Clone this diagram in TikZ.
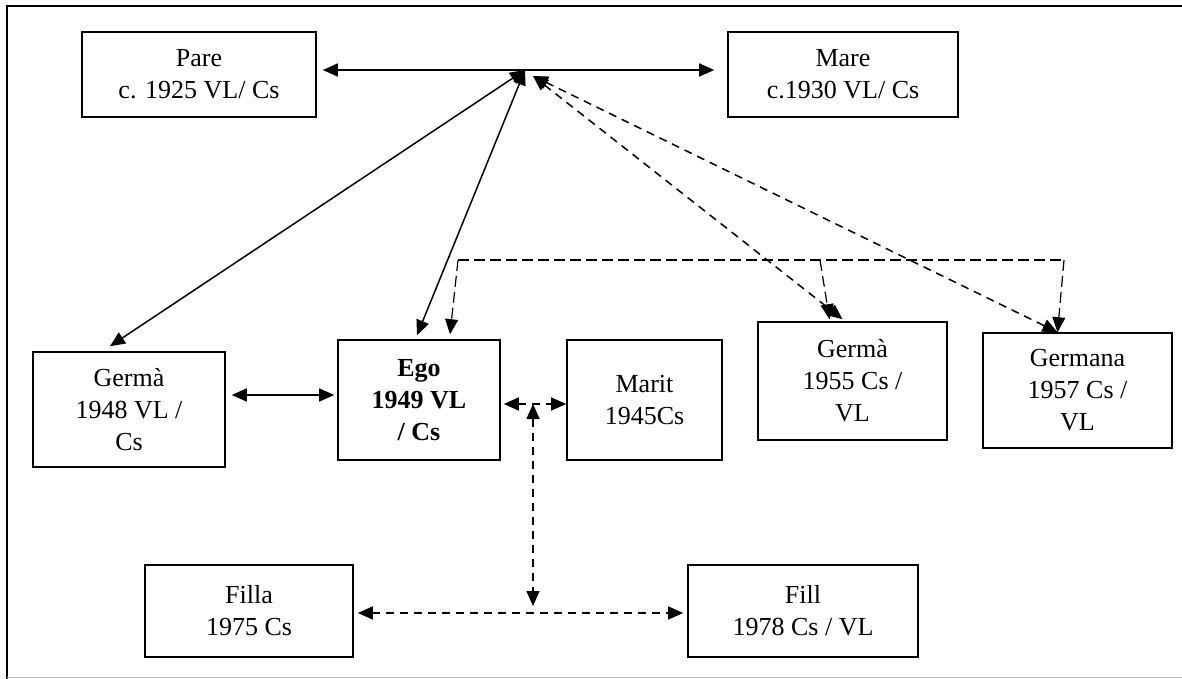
\documentclass[tikz,border=0pt]{standalone}
\usepackage{fontspec}
\setmainfont{Liberation Serif}
\usetikzlibrary{arrows.meta}
\begin{document}
\begin{tikzpicture}[x=1pt,y=-1pt,
  box/.style={draw,line width=1.6pt,minimum width=#1,align=center,inner sep=0pt,
    font=\fontsize{26}{32}\selectfont},
  conn/.style={line width=1.5pt,{Triangle[length=15pt,width=13pt]}-{Triangle[length=15pt,width=13pt]}},
  dsh/.style={dash pattern=on 8pt off 6pt},
  ldsh/.style={line width=1.2pt,dash pattern=on 11pt off 5pt}]
\useasboundingbox (0,0) rectangle (1182,679);
\draw[line width=1.6pt] (7,679) -- (7,6) -- (1182,6);
\draw[line width=0.8pt,gray!50] (7,677) -- (1182,677);

\node[box=234pt,minimum height=85pt] (pare) at (199,74.5) {Pare\\c. 1925 VL/ Cs};
\node[box=230pt,minimum height=85pt] (mare) at (843,74.5) {Mare\\c.1930 VL/ Cs};
\node[box=192pt,minimum height=115pt] (g48) at (129,409.5) {Germà\\1948 VL /\\Cs};
\node[box=162pt,minimum height=120pt] (ego) at (419,400) {\textbf{Ego}\\\textbf{1949 VL}\\\textbf{/ Cs}};
\node[box=155pt,minimum height=120pt] (marit) at (644.5,400) {Marit\\1945Cs};
\node[box=189pt,minimum height=118pt] (g55) at (852.5,381) {Germà\\1955 Cs /\\VL};
\node[box=189pt,minimum height=115pt] (gna) at (1077.5,390.5) {Germana\\1957 Cs /\\VL};
\node[box=208pt,minimum height=92pt] (filla) at (249,611) {Filla\\1975 Cs};
\node[box=230pt,minimum height=92pt] (fill) at (803,611) {Fill\\1978 Cs / VL};

\coordinate (hub) at (525,70);
\coordinate (hubd) at (533,76);
\coordinate (brL) at (458,260);
\coordinate (brM) at (820,260);
\coordinate (brR) at (1064,260);
\coordinate (mid) at (533,404);
\coordinate (low) at (533,613);

\draw[conn] ([xshift=6pt]pare.east |- hub) -- ([xshift=-13pt]mare.west |- hub);
\draw[conn] (hub) -- ([xshift=-19pt,yshift=5pt]g48.north);
\draw[conn] (hub) -- ([xshift=-2pt,yshift=4pt]ego.north);
\draw[conn,dsh] (hubd) -- ([xshift=-10pt,yshift=2pt]g55.north);
\draw[conn,dsh] (hubd) -- ([xshift=-20pt]gna.north);

\draw[ldsh] (brL) -- (brR);
\draw[ldsh,-{Triangle[length=15pt,width=13pt]}] (brL) -- ([xshift=31pt,yshift=5pt]ego.north);
\draw[ldsh,-{Triangle[length=15pt,width=13pt]}] (brM) -- ([xshift=-23pt,yshift=2pt]g55.north);
\draw[ldsh,-{Triangle[length=15pt,width=13pt]}] (brR) -- ([xshift=-20pt]gna.north);

\draw[conn] ([xshift=6pt]g48.east |- 0,395) -- ([xshift=-3pt]ego.west |- 0,395);
\draw[conn,dsh] ([xshift=3pt]ego.east |- mid) -- (marit.west |- mid);
\draw[conn,dsh] (mid) -- ([yshift=7pt]low);
\draw[conn,dsh] ([xshift=4pt]filla.east |- low) -- ([xshift=-4pt]fill.west |- low);
\end{tikzpicture}
\end{document}
